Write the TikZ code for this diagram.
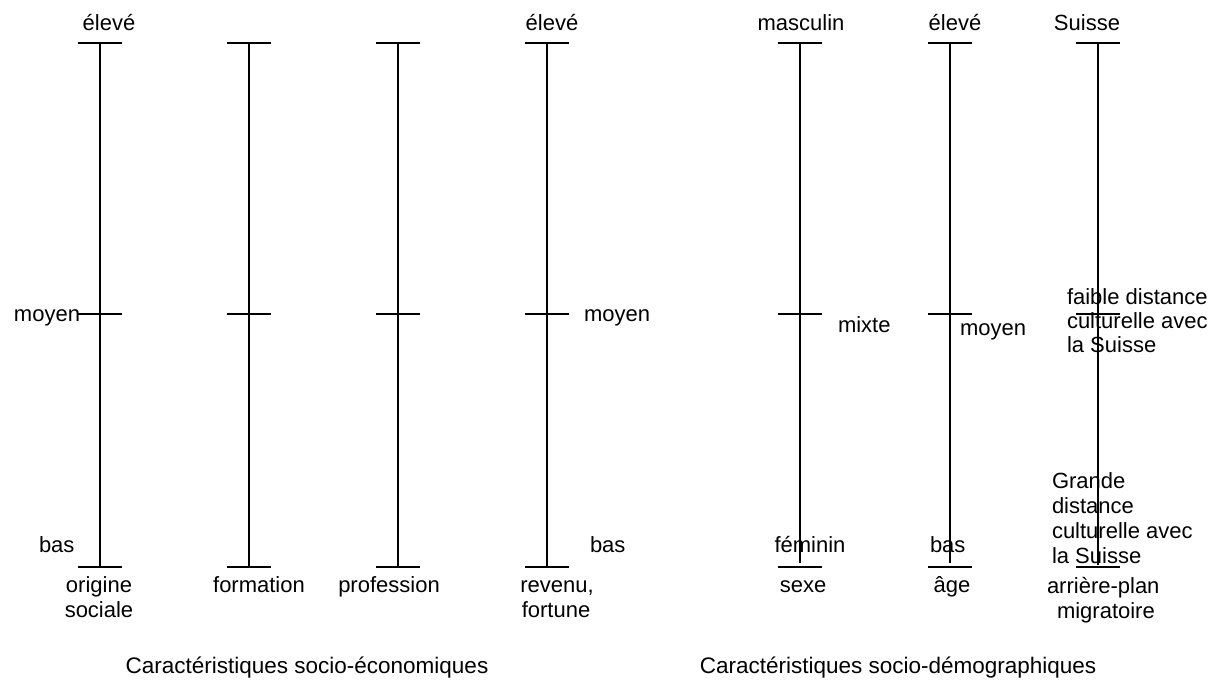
\documentclass[tikz,border=0pt]{standalone}
\usepackage{fontspec}
\setmainfont{Liberation Sans}
\begin{document}
\begin{tikzpicture}[x=1pt,y=-1pt,
  axisline/.style={line width=1.4pt},
  lbl/.style={font=\fontsize{22}{25}\selectfont, inner sep=0pt, outer sep=0pt},
  capt/.style={font=\fontsize{22.5}{26}\selectfont, inner sep=0pt, outer sep=0pt}]
\useasboundingbox (0,0) rectangle (1219,682);
\fill[white] (0,0) rectangle (1219,682);
% axes
\foreach \n/\x/\e in {a/100/567, b/249/567, c/398/567, d/547/567, e/800/563, f/950/563, g/1098/565}{
  \coordinate (\n top) at (\x,43);
  \coordinate (\n mid) at (\x,314);
  \coordinate (\n bot) at (\x,567);
  \coordinate (\n end) at (\x,\e);
  \coordinate (\n tl) at (\x-22,43);  \coordinate (\n tr) at (\x+22,43);
  \coordinate (\n ml) at (\x-22,314); \coordinate (\n mr) at (\x+22,314);
  \coordinate (\n bl) at (\x-22,567); \coordinate (\n br) at (\x+22,567);
  \draw[axisline] (\n top) -- (\n end);
  \draw[axisline] (\n tl) -- (\n tr);
  \draw[axisline] (\n ml) -- (\n mr);
  \draw[axisline] (\n bl) -- (\n br);
}
% top labels
\node[lbl, anchor=base] (t1) at (109,31) {élevé};
\node[lbl, anchor=base] (t4) at (552,31) {élevé};
\node[lbl, anchor=base] (t5) at (801,31) {masculin};
\node[lbl, anchor=base] (t6) at (955,31) {élevé};
\node[lbl, anchor=base] (t7) at (1087,31) {Suisse};
% middle labels
\node[lbl, anchor=base east] (m1) at (80,321) {moyen};
\node[lbl, anchor=base west] (m4) at (584,321) {moyen};
\node[lbl, anchor=base west] (m5) at (838,332) {mixte};
\node[lbl, anchor=base west] (m6) at (960,335) {moyen};
\node[lbl, anchor=base west] (m7a) at (1067,304) {faible distance};
\node[lbl, anchor=base west] (m7b) at (1067,328) {culturelle avec};
\node[lbl, anchor=base west] (m7c) at (1067,352) {la Suisse};
% low labels
\node[lbl, anchor=base west] (b1) at (39,552) {bas};
\node[lbl, anchor=base west] (b4) at (590,552) {bas};
\node[lbl, anchor=base] (b5) at (810,552) {féminin};
\node[lbl, anchor=base west] (b6) at (930,552) {bas};
\node[lbl, anchor=base west] (b7a) at (1052,488) {Grande};
\node[lbl, anchor=base west] (b7b) at (1052,513) {distance};
\node[lbl, anchor=base west] (b7c) at (1052,538) {culturelle avec};
\node[lbl, anchor=base west] (b7d) at (1052,563) {la Suisse};
% axis names
\node[lbl, anchor=base] (n1a) at (99,592) {origine};
\node[lbl, anchor=base] (n1b) at (99,617) {sociale};
\node[lbl, anchor=base] (n2) at (259,592) {formation};
\node[lbl, anchor=base] (n3) at (389,592) {profession};
\node[lbl, anchor=base] (n4a) at (557,592) {revenu,};
\node[lbl, anchor=base] (n4b) at (556,617) {fortune};
\node[lbl, anchor=base] (n5) at (803,592) {sexe};
\node[lbl, anchor=base] (n6) at (952,592) {âge};
\node[lbl, anchor=base west] (n7a) at (1047,593) {arrière-plan};
\node[lbl, anchor=base west] (n7b) at (1057,618) {migratoire};
% captions
\node[capt, anchor=base] (c1) at (307,673) {Caractéristiques socio-économiques};
\node[capt, anchor=base] (c2) at (898,673) {Caractéristiques socio-démographiques};
\end{tikzpicture}
\end{document}
